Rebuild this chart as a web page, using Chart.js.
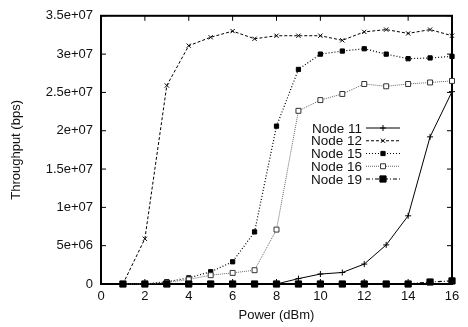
<!DOCTYPE html>
<html>
<head>
<meta charset="utf-8">
<script src="https://cdn.jsdelivr.net/npm/chart.js@4"></script>
<style>
  html, body { margin: 0; padding: 0; background: #fff; }
  #wrap { width: 468px; height: 327px; }
</style>
</head>
<body>
<div id="wrap"><canvas id="c" width="468" height="327"></canvas></div>
<script>
// Transmit power settings (dBm)
const power = [1, 2, 3, 4, 5, 6, 7, 8, 9, 10, 11, 12, 13, 14, 15, 16];

// Measured throughput per node (bps)
const node11 = [0, 0, 0, 0, 0, 0, 0, 0, 0.7e6, 1.3e6, 1.5e6, 2.6e6, 5.1e6, 8.9e6, 19.2e6, 25.1e6];
const node12 = [0, 5.9e6, 25.9e6, 31.1e6, 32.2e6, 33.0e6, 32.0e6, 32.4e6, 32.4e6, 32.4e6, 31.8e6, 32.9e6, 33.2e6, 32.7e6, 33.2e6, 32.4e6];
const node15 = [0, 0, 0.3e6, 0.8e6, 1.6e6, 2.9e6, 6.8e6, 20.6e6, 28.0e6, 30.0e6, 30.4e6, 30.7e6, 30.0e6, 29.4e6, 29.5e6, 29.7e6];
const node16 = [0, 0, 0.2e6, 0.6e6, 1.15e6, 1.45e6, 1.8e6, 7.1e6, 22.6e6, 24.0e6, 24.8e6, 26.1e6, 25.8e6, 26.1e6, 26.3e6, 26.5e6];
const node19 = [0, 0, 0, 0, 0, 0, 0, 0, 0, 0, 0, 0, 0, 0, 0.26e6, 0.4e6];

const seriesNames = ['Node 11', 'Node 12', 'Node 15', 'Node 16', 'Node 19'];

// Axis tick labels
const xTickValues = [0, 2, 4, 6, 8, 10, 12, 14, 16];
const yTickLabels = ['0', '5e+06', '1e+07', '1.5e+07', '2e+07', '2.5e+07', '3e+07', '3.5e+07'];

const FONT = '"Liberation Sans", Arial, Helvetica, sans-serif';

const pts = arr => arr.map((v, i) => ({ x: power[i], y: v }));

const styles = [
  { color: '#000', dash: [], width: 1, pointStyle: 'cross', radius: 3, fill: '#000' },
  { color: '#000', dash: [3, 2], width: 1, pointStyle: 'crossRot', radius: 3, fill: '#000' },
  { color: '#000', dash: [1, 2], width: 1.2, pointStyle: 'rect', radius: 3, fill: '#000' },
  { color: '#666', dash: [1, 1], width: 1, pointStyle: 'rect', radius: 3.5, fill: '#fff', pointBorder: '#333' },
  { color: '#000', dash: [4, 2, 1, 2], width: 1.2, pointStyle: 'rect', radius: 4.4, fill: '#000' }
];

const seriesData = [node11, node12, node15, node16, node19];

const datasets = seriesData.map((arr, i) => {
  const s = styles[i];
  return {
    label: seriesNames[i],
    data: pts(arr),
    borderColor: s.color,
    borderWidth: s.width,
    borderDash: s.dash,
    pointStyle: s.pointStyle,
    pointRadius: s.radius,
    pointBackgroundColor: s.fill,
    pointBorderColor: s.pointBorder || s.color,
    pointBorderWidth: 1,
    tension: 0,
    fill: false,
    clip: 8,
    order: seriesData.length - i
  };
});

// Frame with inward tick marks on all four sides
const framePlugin = {
  id: 'frame',
  beforeDatasetsDraw(chart) {
    const { ctx, chartArea: a, scales } = chart;
    const len = 5;
    ctx.save();
    ctx.strokeStyle = '#000';
    ctx.lineWidth = 1;
    ctx.setLineDash([]);
    ctx.beginPath();
    scales.x.ticks.forEach(t => {
      const px = scales.x.getPixelForValue(t.value);
      ctx.moveTo(px, a.bottom); ctx.lineTo(px, a.bottom - len);
      ctx.moveTo(px, a.top); ctx.lineTo(px, a.top + len);
    });
    scales.y.ticks.forEach(t => {
      const py = scales.y.getPixelForValue(t.value);
      ctx.moveTo(a.left, py); ctx.lineTo(a.left + len, py);
      ctx.moveTo(a.right, py); ctx.lineTo(a.right - len, py);
    });
    ctx.stroke();
    ctx.lineWidth = 2;
    ctx.strokeRect(a.left, a.top, a.right - a.left, a.bottom - a.top);
    ctx.restore();
  }
};

// Key: label text on the left, line sample with marker on the right
const keyPlugin = {
  id: 'key',
  afterDatasetsDraw(chart) {
    const { ctx } = chart;
    const textRight = 362, x0 = 366, x1 = 400, y0 = 128, step = 12.75;
    ctx.save();
    ctx.font = '13.5px ' + FONT;
    ctx.textAlign = 'right';
    ctx.textBaseline = 'middle';
    chart.data.datasets.forEach((ds, i) => {
      const y = y0 + i * step;
      ctx.fillStyle = '#111';
      ctx.fillText(ds.label, textRight, y + 1);
      ctx.strokeStyle = ds.borderColor;
      ctx.lineWidth = ds.borderWidth;
      ctx.setLineDash(ds.borderDash);
      ctx.beginPath();
      ctx.moveTo(x0, y); ctx.lineTo(x1, y);
      ctx.stroke();
      ctx.setLineDash([]);
      ctx.fillStyle = ds.pointBackgroundColor;
      ctx.strokeStyle = ds.pointBorderColor;
      ctx.lineWidth = 1;
      Chart.helpers.drawPoint(ctx, {
        pointStyle: ds.pointStyle, radius: ds.pointRadius, rotation: 0, borderWidth: 1
      }, (x0 + x1) / 2, y);
    });
    ctx.restore();
  }
};

new Chart(document.getElementById('c'), {
  type: 'line',
  data: { datasets },
  options: {
    responsive: false,
    animation: false,
    devicePixelRatio: 1,
    layout: { padding: { left: 0, right: 16, top: 10, bottom: 0 } },
    plugins: { legend: { display: false }, tooltip: { enabled: false } },
    scales: {
      x: {
        type: 'linear',
        min: 0, max: 16,
        afterBuildTicks: scale => { scale.ticks = xTickValues.map(v => ({ value: v })); },
        afterFit: scale => { scale.height = 43; },
        grid: { display: false, drawTicks: false },
        border: { display: false },
        ticks: { color: '#111', font: { family: FONT, size: 13 }, padding: 5, maxRotation: 0 },
        title: { display: true, text: 'Power (dBm)', color: '#111', font: { family: FONT, size: 13 }, padding: { top: 0, bottom: 4 } }
      },
      y: {
        type: 'linear',
        min: 0, max: 3.5e7,
        afterBuildTicks: scale => { scale.ticks = yTickLabels.map((_, i) => ({ value: i * 5e6 })); },
        afterFit: scale => { scale.width = 101; },
        grid: { display: false, drawTicks: false },
        border: { display: false },
        ticks: {
          color: '#111', font: { family: FONT, size: 13 }, padding: 8,
          callback: v => yTickLabels[Math.round(v / 5e6)]
        },
        title: { display: true, text: 'Throughput (bps)', color: '#111', font: { family: FONT, size: 13 }, padding: { top: 9, bottom: 0 } }
      }
    }
  },
  plugins: [framePlugin, keyPlugin]
});
</script>
</body>
</html>
